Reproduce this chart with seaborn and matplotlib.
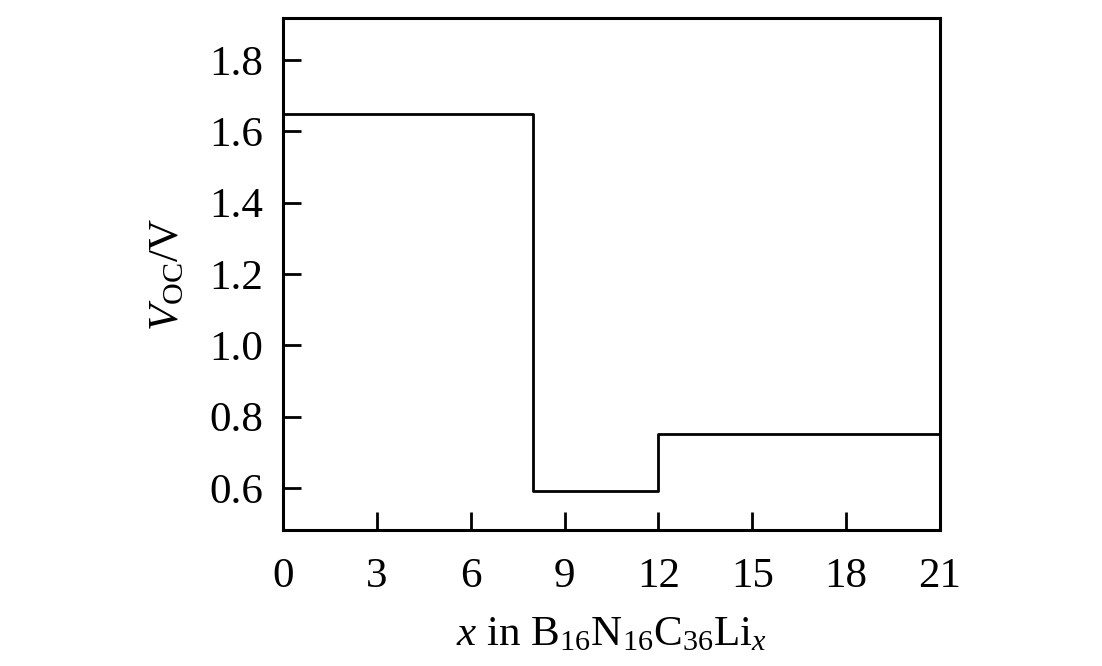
import matplotlib
matplotlib.use('Agg')
import matplotlib.pyplot as plt
import seaborn as sns
import pandas as pd

# step edges of the voltage profile
x_steps = [0, 8, 12, 21]
voc_steps = [1.65, 0.59, 0.75, 0.75]

x_ticks = [0, 3, 6, 9, 12, 15, 18, 21]
y_ticks = [0.6, 0.8, 1.0, 1.2, 1.4, 1.6, 1.8]

sns.set_style('ticks')
plt.rcParams['font.family'] = ['Liberation Serif', 'DejaVu Serif']
plt.rcParams['mathtext.fontset'] = 'custom'
plt.rcParams['mathtext.rm'] = 'Liberation Serif'
plt.rcParams['mathtext.it'] = 'Liberation Serif:italic'
plt.rcParams['text.color'] = 'black'
plt.rcParams['axes.labelcolor'] = 'black'
plt.rcParams['xtick.color'] = 'black'
plt.rcParams['ytick.color'] = 'black'

df = pd.DataFrame({'x': x_steps, 'voc': voc_steps})

fig = plt.figure(figsize=(11.02, 6.66), dpi=100)
ax = fig.add_axes([283 / 1102, 1 - 530 / 666, (940 - 283) / 1102, (530 - 18) / 666])

sns.lineplot(data=df, x='x', y='voc', ax=ax, color='black', linewidth=2,
             drawstyle='steps-post', sort=False)

ax.set_xlim(0, 21)
ax.set_ylim(0.482, 1.918)
ax.set_xticks(x_ticks)
ax.set_yticks(y_ticks)
ax.set_yticklabels([f'{v:.1f}' for v in y_ticks])
ax.tick_params(direction='in', length=13, width=2, labelsize=31,
               top=False, right=False)
ax.tick_params(axis='x', pad=20)
ax.tick_params(axis='y', pad=14)
for s in ax.spines.values():
    s.set_linewidth(2.2)
    s.set_color('black')

ax.set_xlabel(r'$x$ in B$_{16}$N$_{16}$C$_{36}$Li$_{x}$', fontsize=31, labelpad=14)
ax.set_ylabel(r'$V_{\mathrm{OC}}$/V', fontsize=31, labelpad=16)

fig.savefig('out.png', dpi=100)
